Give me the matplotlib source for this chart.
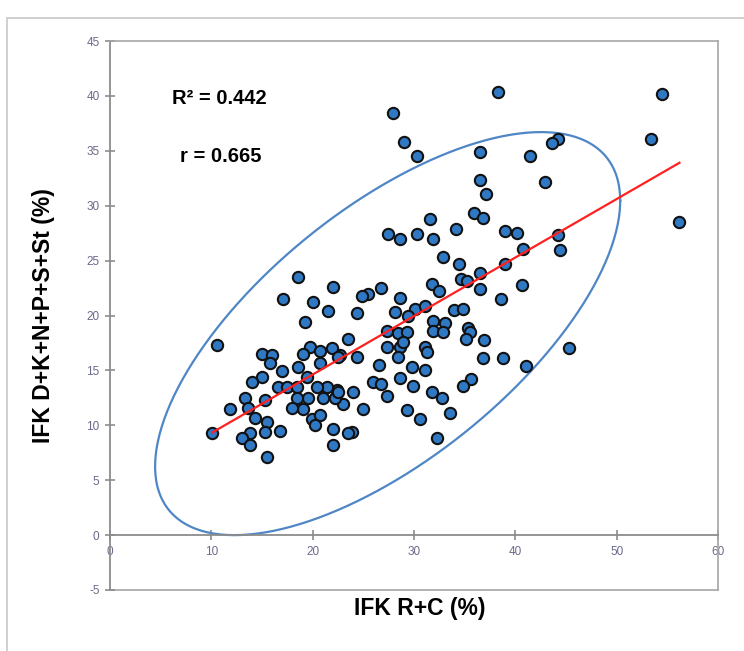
import numpy as np
import matplotlib
matplotlib.use("Agg")
import matplotlib.pyplot as plt
from matplotlib.patches import Rectangle

# IFK R+C (%) vs IFK D+K+N+P+S+St (%)
rc = [27.9, 38.3, 54.5, 53.4, 56.2, 45.3, 29.0, 30.3, 36.5, 41.4,
      44.2, 43.6, 42.9, 36.5, 37.1, 35.9, 36.8, 31.6, 34.1, 39.0,
      40.2, 40.8, 44.2, 44.4, 27.4, 28.6, 30.3, 31.9, 32.9, 34.4,
      36.5, 39.0, 34.6, 35.2, 36.5, 40.7, 38.6, 18.6, 22.0, 26.7,
      25.5, 24.9, 28.6, 31.8, 32.5, 17.1, 20.0, 21.5, 24.4, 28.1,
      30.1, 31.1, 33.9, 34.8, 19.2, 23.5, 29.4, 31.9, 33.1, 31.9,
      32.9, 27.3, 28.4, 29.3, 35.3, 35.5, 35.1, 36.9, 27.3, 28.6,
      28.9, 31.1, 31.3, 36.8, 38.8, 41.1, 28.4, 22.7, 24.4, 26.5,
      29.8, 31.1, 28.6, 26.0, 26.7, 29.9, 27.3, 31.8, 32.8, 35.6,
      34.8, 33.6, 29.3, 30.6, 32.3, 24.0, 22.4, 21.4, 23.0, 25.0,
      23.9, 22.0, 22.0, 19.9, 19.0, 20.4, 19.5, 21.0, 22.2, 19.7,
      20.7, 21.9, 19.0, 20.7, 22.5, 10.6, 15.0, 16.0, 15.8, 17.0,
      18.6, 15.0, 14.0, 19.4, 16.6, 17.5, 18.5, 22.5, 18.5, 18.0,
      15.3, 13.3, 13.6, 11.8, 14.3, 20.7, 20.2, 15.5, 15.3, 16.8,
      10.1, 13.8, 13.0, 13.8, 23.5, 15.5]
dknps = [38.4, 40.4, 40.2, 36.1, 28.5, 17.0, 35.8, 34.5, 34.9, 34.5,
         36.1, 35.7, 32.2, 32.3, 31.1, 29.3, 28.9, 28.8, 27.9, 27.7,
         27.5, 26.1, 27.3, 26.0, 27.4, 27.0, 27.4, 27.0, 25.3, 24.7,
         23.9, 24.7, 23.3, 23.1, 22.4, 22.8, 21.5, 23.5, 22.6, 22.5,
         22.0, 21.8, 21.6, 22.9, 22.2, 21.5, 21.2, 20.4, 20.2, 20.3,
         20.6, 20.9, 20.5, 20.6, 19.4, 17.9, 20.0, 19.5, 19.3, 18.6,
         18.5, 18.6, 18.4, 18.5, 18.9, 18.5, 17.9, 17.8, 17.1, 17.1,
         17.6, 17.1, 16.7, 16.1, 16.1, 15.4, 16.2, 16.4, 16.2, 15.5,
         15.3, 15.0, 14.3, 13.9, 13.8, 13.6, 12.7, 13.0, 12.5, 14.2,
         13.6, 11.1, 11.4, 10.6, 8.8, 13.0, 13.2, 13.5, 11.9, 11.5,
         9.4, 9.7, 8.2, 10.6, 11.5, 13.5, 12.5, 12.5, 12.5, 17.1,
         16.8, 17.0, 16.5, 15.7, 16.2, 17.3, 16.5, 16.4, 15.7, 14.9,
         15.3, 14.4, 13.9, 14.4, 13.5, 13.5, 13.5, 13.0, 12.5, 11.6,
         12.3, 12.5, 11.6, 11.5, 10.7, 10.9, 10.0, 10.3, 9.4, 9.5,
         9.3, 9.3, 8.8, 8.2, 9.3, 7.1]

stats_text = ["R\u00b2 = 0.442", "r = 0.665"]
x_ticks = [0, 10, 20, 30, 40, 50, 60]
y_ticks = [-5, 0, 5, 10, 15, 20, 25, 30, 35, 40, 45]

# ellipse drawn round the cloud (centre, x radius, y cos/sin parts)
ell_cx, ell_cy = 27.4, 18.35
ell_rx, ell_ryc, ell_rys = 22.95, 12.1, 13.8

plt.rcParams["font.family"] = ["Liberation Sans", "DejaVu Sans"]
plt.rcParams["axes.unicode_minus"] = False

fig = plt.figure(figsize=(7.44, 6.51), dpi=100)
# outer chart border
fig.patches.append(Rectangle((7 / 744, -0.1), 1.2, 1 - 18 / 651 + 0.1,
                             transform=fig.transFigure, fill=False,
                             edgecolor="#c8c8c8", lw=1.2))

ax = fig.add_axes([110 / 744, 1 - 590 / 651, 608 / 744, 549 / 651])
ax.set_xlim(0, 60)
ax.set_ylim(-5, 45)

gray = "#a6a6a6"
ax.spines["bottom"].set_position(("data", 0))
for s in ["left", "bottom"]:
    ax.spines[s].set_color("#8c8c8c")
    ax.spines[s].set_linewidth(1.3)
for s in ["top", "right"]:
    ax.spines[s].set_color(gray)
    ax.spines[s].set_linewidth(1.2)
ax.axhline(-5, color=gray, lw=1.2, clip_on=False, zorder=0)

ax.set_xticks(x_ticks)
ax.set_yticks(y_ticks)
ax.tick_params(direction="inout", length=7, width=1.2, color="#8c8c8c",
               labelsize=8.5, labelcolor="#6a6a8a", pad=4)

# ellipse
t = np.linspace(0, 2 * np.pi, 300)
ex = ell_cx + ell_rx * np.cos(t)
ey = ell_cy + ell_ryc * np.cos(t) + ell_rys * np.sin(t)
ax.plot(ex, ey, color="#4f86c6", lw=1.6, zorder=2, clip_on=False)

# points
ax.scatter(rc, dknps, s=66, c="#2f78c4", edgecolors="#111111",
           linewidths=1.5, zorder=3)

# trend line
k, b = np.polyfit(rc, dknps, 1)
xs = np.array([min(rc), max(rc)])
ax.plot(xs, k * xs + b, color="#ff2020", lw=1.6, zorder=4)

ax.text(6.1, 39.8, stats_text[0], fontsize=14.5, fontweight="bold",
        va="center", ha="left")
ax.text(6.9, 34.5, stats_text[1], fontsize=14.5, fontweight="bold",
        va="center", ha="left")

ax.set_xlabel("IFK R+C (%)", fontsize=16.5, fontweight="bold")
ax.set_ylabel("IFK D+K+N+P+S+St (%)", fontsize=16.5, fontweight="bold")
ax.xaxis.set_label_coords(0.51, -0.012)
ax.yaxis.set_label_coords(-0.09, 0.5)

fig.savefig("out.png", dpi=100)
